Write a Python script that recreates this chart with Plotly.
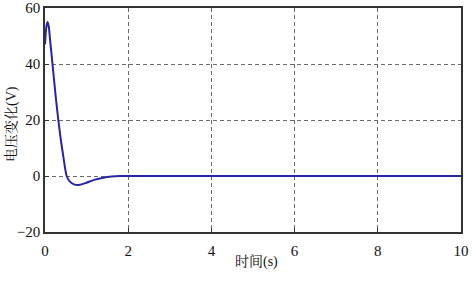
import plotly.graph_objects as go

t = [0, 0.03, 0.06, 0.09, 0.12, 0.15, 0.18, 0.22, 0.26, 0.32, 0.38, 0.44, 0.52, 0.6, 0.7, 0.8, 0.9, 1.0, 1.2, 1.4, 1.6, 1.8, 2.0, 10]
v = [47, 53, 55, 53.5, 49, 44.5, 40, 34, 28, 20, 13, 7, 0, -2, -3, -3.2, -2.9, -2.4, -1.3, -0.6, -0.2, 0, 0, 0]

x_ticks = [0, 2, 4, 6, 8, 10]
y_ticks = [-20, 0, 20, 40, 60]

fig = go.Figure()
fig.add_trace(go.Scatter(x=t, y=v, mode="lines",
                         line=dict(color="#2626a0", width=2, shape="spline", smoothing=0.6),
                         showlegend=False))

font_fam = "Times New Roman, Liberation Serif, Noto Serif CJK SC, Noto Sans CJK SC, serif"
axis_common = dict(showline=True, linecolor="#333", linewidth=1.5, mirror=True,
                   showgrid=True, gridcolor="#6a6a6a", griddash="4px,3px", gridwidth=1,
                   zeroline=False, ticks="inside", ticklen=4, tickcolor="#333",
                   automargin=False,
                   tickfont=dict(family=font_fam, size=15, color="#111"))

L, R, T, B, W, H = 45, 11, 8, 51, 472, 283
fig.update_layout(
    width=W, height=H,
    margin=dict(l=L, r=R, t=T, b=B),
    paper_bgcolor="white", plot_bgcolor="white",
    xaxis=dict(range=[0, 10], tickvals=x_ticks, ticklabelstandoff=4, **axis_common),
    yaxis=dict(range=[-20, 60], tickvals=y_ticks, **axis_common),
)
pw, ph = W - L - R, H - T - B
def px(x, y):
    return (x - L) / pw, (H - B - y) / ph
ax, ay = px(256, 262)
bx, by = px(12, 124)
fig.add_annotation(text="时间(s)", x=ax, y=ay, xref="paper", yref="paper", showarrow=False,
                   xanchor="center", yanchor="middle",
                   font=dict(family=font_fam, size=14, color="#111"))
fig.add_annotation(text="电压变化(V)", x=bx, y=by, xref="paper", yref="paper", showarrow=False,
                   xanchor="center", yanchor="middle", textangle=-90,
                   font=dict(family=font_fam, size=14, color="#111"))

fig.write_html("out.html", config={"displayModeBar": False},
               post_script="document.body.style.margin='0';")
